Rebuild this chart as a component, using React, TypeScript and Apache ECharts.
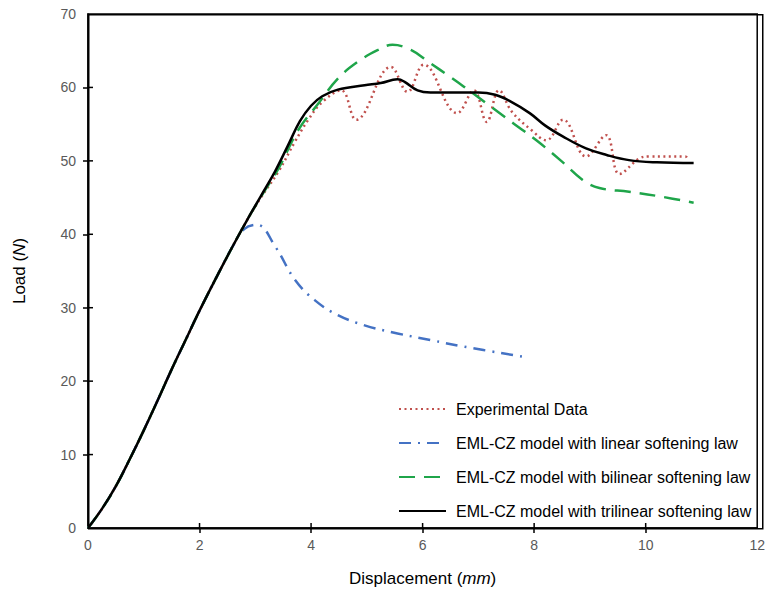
import React, { useEffect, useRef } from "react";
import * as echarts from "echarts";

const xTicks = [2, 4, 6, 8, 10];
const yTicks = [10, 20, 30, 40, 50, 60];

const experimental: [number, number][] = [
  [0, 0], [0.25, 2.6], [0.5, 5.7], [0.75, 9.4], [1.0, 13.3], [1.25, 17.4], [1.5, 21.6], [1.75, 25.6],
  [2.0, 29.6], [2.3, 34.1], [2.59, 38.3], [2.85, 41.9], [3.1, 45.0], [3.42, 48.6], [3.71, 52.6],
  [3.95, 55.6], [4.2, 58.0], [4.54, 59.6], [4.81, 55.6], [5.43, 62.8], [5.73, 59.4], [6.02, 63.1],
  [6.62, 56.5], [6.92, 59.6], [7.15, 55.3], [7.37, 59.6], [7.6, 56.7], [7.95, 54.2], [8.22, 52.8],
  [8.52, 55.6], [8.93, 50.6], [9.29, 53.5], [9.53, 48.2], [9.88, 50.3], [10.06, 50.6], [10.71, 50.6],
  [10.76, 50.1],
];

const linearLaw: [number, number][] = [
  [0, 0], [0.25, 2.6], [0.5, 5.7], [0.75, 9.4], [1.0, 13.3], [1.25, 17.4], [1.5, 21.6], [1.75, 25.6],
  [2.0, 29.6], [2.3, 34.1], [2.59, 38.3], [2.8, 40.7], [3.03, 41.3], [3.36, 38.3], [3.71, 33.8],
  [4.07, 31.0], [4.48, 29.0], [4.96, 27.6], [5.55, 26.5], [6.14, 25.6], [6.74, 24.7], [7.82, 23.3],
];

const bilinearLaw: [number, number][] = [
  [0, 0], [0.25, 2.6], [0.5, 5.7], [0.75, 9.4], [1.0, 13.3], [1.25, 17.4], [1.5, 21.6], [1.75, 25.6],
  [2.0, 29.6], [2.3, 34.1], [2.59, 38.3], [2.85, 41.9], [3.1, 45.1], [3.42, 49.0], [3.77, 54.2],
  [4.13, 57.8], [4.48, 61.2], [4.84, 63.5], [5.2, 65.1], [5.46, 65.8], [5.79, 65.1], [6.14, 63.3],
  [6.5, 61.4], [6.74, 60.1], [7.15, 57.8], [7.63, 55.1], [8.04, 52.8], [8.5, 49.9], [8.87, 47.4],
  [9.17, 46.3], [9.7, 45.8], [10.3, 45.1], [10.86, 44.3],
];

const trilinearLaw: [number, number][] = [
  [0, 0], [0.25, 2.6], [0.5, 5.7], [0.75, 9.4], [1.0, 13.3], [1.25, 17.4], [1.5, 21.6], [1.75, 25.6],
  [2.0, 29.6], [2.3, 34.1], [2.59, 38.3], [2.85, 41.9], [3.1, 45.2], [3.35, 48.5], [3.58, 52.0],
  [3.8, 55.4], [4.0, 57.5], [4.2, 58.8], [4.48, 59.7], [4.96, 60.3], [5.25, 60.6], [5.55, 61.1],
  [5.67, 60.8], [5.91, 59.6], [6.14, 59.3], [6.6, 59.3], [7.0, 59.3], [7.3, 59.0], [7.55, 58.2],
  [7.92, 56.5], [8.2, 54.8], [8.52, 53.3], [8.93, 51.7], [9.3, 50.8], [9.7, 50.1], [10.2, 49.8],
  [10.86, 49.7],
];

const seriesNames = [
  "Experimental Data",
  "EML-CZ model with linear softening law",
  "EML-CZ model with bilinear softening law",
  "EML-CZ model with trilinear softening law",
];

const FONT = "Liberation Sans, Arial, sans-serif";
const X_MIN = 0, X_MAX = 12, Y_MIN = 0, Y_MAX = 70;

export default function App() {
  const ref = useRef<HTMLDivElement>(null);
  useEffect(() => {
    if (!ref.current) return;
    const chart = echarts.init(ref.current, undefined, { renderer: "svg" });
    const labelStyle = { color: "#595959", fontSize: 14, fontFamily: FONT };
    const tickStyle = { color: "#000", width: 1.5 };
    const GL = 88, GR = 6, GT = 14, GB = 66;
    const W = 768, H = 594;
    const elements: any[] = [
      {
        type: "rect",
        silent: true,
        z: 50,
        left: GL,
        top: GT,
        shape: { x: 0, y: 0, width: W - GL - GR, height: H - GT - GB },
        style: { stroke: "#000", lineWidth: 1.5, fill: "transparent" },
      },
    ];
    chart.setOption({
      animation: false,
      backgroundColor: "#fff",
      grid: { left: GL, right: GR, top: GT, bottom: GB, show: true, borderColor: "#000", borderWidth: 1.5, backgroundColor: "transparent" },
      graphic: { elements },
      legend: {
        orient: "vertical",
        left: 393,
        top: 396,
        itemWidth: 47,
        itemHeight: 16,
        itemGap: 18,
        data: seriesNames,
        itemStyle: { opacity: 0 },
        textStyle: { color: "#000", fontSize: 16, fontFamily: FONT, padding: [0, 0, 0, 5] },
      },
      xAxis: {
        type: "value", min: X_MIN, max: X_MAX, interval: 2,
        splitLine: { show: false },
        axisLine: { show: true, onZero: false, lineStyle: { color: "#000", width: 1.5 } },
        axisTick: { show: true, customValues: xTicks, length: 5, lineStyle: tickStyle },
        axisLabel: { ...labelStyle, margin: 10 },
        name: "Displacement ({i|mm})",
        nameLocation: "middle",
        nameGap: 42,
        nameTextStyle: {
          color: "#000", fontSize: 17, fontFamily: FONT,
          rich: { i: { fontStyle: "italic", fontSize: 17, fontFamily: FONT, color: "#000" } },
        },
      },
      yAxis: {
        type: "value", min: Y_MIN, max: Y_MAX, interval: 10,
        splitLine: { show: false },
        axisLine: { show: true, onZero: false, lineStyle: { color: "#000", width: 1.5 } },
        axisTick: { show: true, customValues: yTicks, length: 5, lineStyle: tickStyle },
        axisLabel: { ...labelStyle, margin: 12 },
        name: "Load ({i|N})",
        nameLocation: "middle",
        nameGap: 60,
        nameTextStyle: {
          color: "#000", fontSize: 17, fontFamily: FONT,
          rich: { i: { fontStyle: "italic", fontSize: 17, fontFamily: FONT, color: "#000" } },
        },
      },
      series: [
        {
          name: seriesNames[0], type: "line", data: experimental, smooth: 0.4, symbol: "none",
          color: "#c0504d",
          lineStyle: { color: "#c0504d", width: 2.5, type: [2, 3.5] },
        },
        {
          name: seriesNames[1], type: "line", data: linearLaw, smooth: 0.4, symbol: "none",
          color: "#4472c4",
          lineStyle: { color: "#4472c4", width: 2.5, type: [12, 7, 2, 7] },
        },
        {
          name: seriesNames[2], type: "line", data: bilinearLaw, smooth: 0.4, symbol: "none",
          color: "#1fa54a",
          lineStyle: { color: "#1fa54a", width: 2.5, type: [16, 9] },
        },
        {
          name: seriesNames[3], type: "line", data: trilinearLaw, smooth: 0.4, symbol: "none",
          color: "#000",
          lineStyle: { color: "#000", width: 2.5, type: "solid" },
        },
      ],
    });

    try {
      const toPx = (x: number, y: number) =>
        chart.convertToPixel({ gridIndex: 0 }, [x, y]) as number[];
      const tickEls: any[] = [];
      xTicks.forEach((v) => {
        const p = toPx(v, Y_MIN);
        tickEls.push({
          type: "line", silent: true, z: 50,
          shape: { x1: p[0], y1: p[1], x2: p[0], y2: p[1] - 5 },
          style: { stroke: "#000", lineWidth: 1.5 },
        });
      });
      yTicks.forEach((v) => {
        const p = toPx(X_MIN, v);
        tickEls.push({
          type: "line", silent: true, z: 50,
          shape: { x1: p[0], y1: p[1], x2: p[0] + 5, y2: p[1] },
          style: { stroke: "#000", lineWidth: 1.5 },
        });
      });
      chart.setOption({ graphic: { elements: [...elements, ...tickEls] } }, { replaceMerge: ["graphic"] });
    } catch (e) {
      chart.setOption({
        graphic: { elements: [...elements, { type: "text", left: 100, top: 560, style: { text: String(e), fill: "red", fontSize: 10 } }] },
      });
    }

    return () => chart.dispose();
  }, []);
  return (
    <div
      ref={ref}
      style={{ position: "fixed", left: 0, top: 0, width: 768, height: 594, background: "#fff" }}
    />
  );
}
